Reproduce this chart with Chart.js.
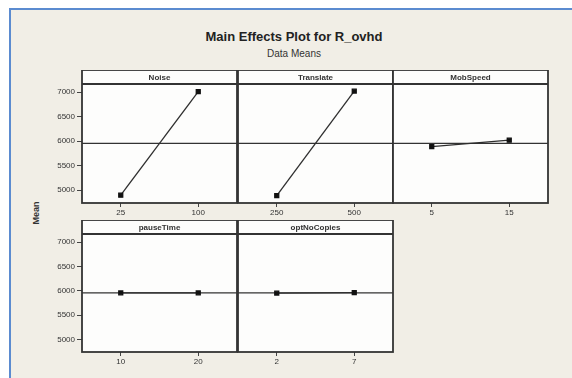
<!DOCTYPE html>
<html>
<head>
<meta charset="utf-8">
<script src="https://cdn.jsdelivr.net/npm/chart.js@4/dist/chart.umd.min.js"></script>
<style>
  html, body { margin: 0; padding: 0; background: #ffffff; }
  #frame {
    position: absolute; left: 9px; top: 8px; width: 563px; height: 370px;
    background: #f1eee6; border-left: 2px solid #5b8bd0; border-top: 2px solid #5b8bd0;
    box-sizing: border-box;
  }
  .txt { position: absolute; font-family: "Liberation Sans", Arial, sans-serif; color: #222; white-space: nowrap; }
  #title { left: 0; width: 588px; top: 29px; text-align: center; font-weight: bold; font-size: 13px; }
  #sub { left: 0; width: 588px; top: 48px; text-align: center; font-size: 10px; color: #333; }
  #ylab { left: 36px; top: 213px; font-size: 9px; font-weight: bold; color: #333; transform: translate(-50%, -50%) rotate(-90deg); }
  canvas { position: absolute; }
</style>
</head>
<body>
<div id="frame"></div>
<div class="txt" id="title">Main Effects Plot for R_ovhd</div>
<div class="txt" id="sub">Data Means</div>
<div class="txt" id="ylab">Mean</div>

<script>
// Factors and their two levels
const factors = ["Noise", "Translate", "MobSpeed", "pauseTime", "optNoCopies"];
const noiseLevels = ["25", "100"];
const translateLevels = ["250", "500"];
const mobSpeedLevels = ["5", "15"];
const pauseTimeLevels = ["10", "20"];
const optNoCopiesLevels = ["2", "7"];

// Mean of R_ovhd at each level
const noiseMeans = [4900, 7010];
const translateMeans = [4890, 7020];
const mobSpeedMeans = [5890, 6020];
const pauseTimeMeans = [5955, 5955];
const optNoCopiesMeans = [5950, 5960];

// Overall mean (reference line) and the value axis
const grandMean = 5955;
const yTicks = [5000, 5500, 6000, 6500, 7000];
const yMin = 4740;
const yMax = 7165;

const levels = [noiseLevels, translateLevels, mobSpeedLevels, pauseTimeLevels, optNoCopiesLevels];
const means = [noiseMeans, translateMeans, mobSpeedMeans, pauseTimeMeans, optNoCopiesMeans];

// Panel grid layout
const AXIS_W = 60, HEADER_H = 14, XLAB_H = 22, PAD_R = 3;
const colLeft = [82, 237.5, 393];
const panelW = 155;
const rowTop = [84, 234];
const rowBottom = [203, 352];

const panelPlugin = {
  id: 'panelFrame',
  beforeDraw(chart, args, opts) {
    const { ctx, chartArea: a } = chart;
    const top = a.top - HEADER_H;
    ctx.save();
    ctx.fillStyle = '#fdfdfc';
    ctx.fillRect(a.left, top, a.right - a.left, a.bottom - top);
    ctx.restore();
  },
  beforeDatasetsDraw(chart) {
    const { ctx, chartArea: a, scales } = chart;
    const y = scales.y.getPixelForValue(grandMean);
    ctx.save();
    ctx.strokeStyle = '#333';
    ctx.lineWidth = 1.4;
    ctx.beginPath();
    ctx.moveTo(a.left, y);
    ctx.lineTo(a.right, y);
    ctx.stroke();
    ctx.restore();
  },
  afterDraw(chart, args, opts) {
    const { ctx, chartArea: a } = chart;
    const top = a.top - HEADER_H;
    ctx.save();
    ctx.strokeStyle = '#333';
    ctx.lineWidth = 1.8;
    ctx.strokeRect(a.left, top, a.right - a.left, a.bottom - top);
    ctx.beginPath();
    ctx.moveTo(a.left, a.top);
    ctx.lineTo(a.right, a.top);
    ctx.stroke();
    ctx.fillStyle = '#333';
    ctx.font = 'bold 8px "Liberation Sans", Arial, sans-serif';
    ctx.textAlign = 'center';
    ctx.textBaseline = 'middle';
    ctx.fillText(opts.label, (a.left + a.right) / 2, top + HEADER_H / 2 + 0.5);
    ctx.restore();
  }
};

factors.forEach((name, i) => {
  const row = i < 3 ? 0 : 1;
  const col = i < 3 ? i : i - 3;
  const areaLeft = colLeft[col];
  const areaTop = rowTop[row];
  const areaH = rowBottom[row] - rowTop[row];

  const cv = document.createElement('canvas');
  const w = AXIS_W + panelW + PAD_R;
  const h = HEADER_H + areaH + XLAB_H;
  cv.width = w; cv.height = h;
  cv.style.left = (areaLeft - AXIS_W) + 'px';
  cv.style.top = (areaTop - HEADER_H) + 'px';
  cv.style.width = w + 'px'; cv.style.height = h + 'px';
  document.body.appendChild(cv);

  const showY = col === 0;
  const tickFont = { family: '"Liberation Sans", Arial, sans-serif', size: 8 };

  new Chart(cv, {
    type: 'line',
    data: {
      labels: levels[i],
      datasets: [{
        data: means[i],
        borderColor: '#2e2e2e',
        borderWidth: 1.3,
        pointBackgroundColor: '#111',
        pointBorderColor: '#111',
        pointRadius: 2.8,
        pointStyle: 'rect',
        tension: 0
      }]
    },
    options: {
      responsive: false,
      animation: false,
      devicePixelRatio: 1,
      layout: { padding: { top: HEADER_H, right: PAD_R, left: 0, bottom: 0 }, autoPadding: false },
      plugins: {
        legend: { display: false },
        tooltip: { enabled: false },
        panelFrame: { label: name }
      },
      scales: {
        x: {
          type: 'category',
          offset: true,
          afterFit(s) { s.height = XLAB_H; },
          border: { display: false },
          grid: { drawOnChartArea: false, drawTicks: true, tickLength: 4, color: '#444', lineWidth: 1 },
          ticks: { color: '#333', font: tickFont, padding: 1, maxRotation: 0 }
        },
        y: {
          type: 'linear',
          min: yMin,
          max: yMax,
          afterFit(s) { s.width = AXIS_W; },
          afterBuildTicks(s) { s.ticks = yTicks.map(v => ({ value: v })); },
          border: { display: false },
          grid: { drawOnChartArea: false, drawTicks: showY, tickLength: 5, color: showY ? '#444' : 'rgba(0,0,0,0)' },
          ticks: { display: showY, color: '#333', font: tickFont, padding: 2, callback: v => String(v) }
        }
      }
    },
    plugins: [panelPlugin]
  });
});
</script>
</body>
</html>
